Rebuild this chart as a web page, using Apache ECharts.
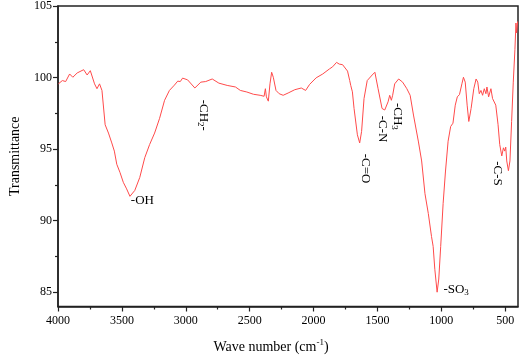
<!DOCTYPE html>
<html>
<head>
<meta charset="utf-8">
<script src="https://cdn.jsdelivr.net/npm/echarts@6/dist/echarts.min.js"></script>
<style>html,body{margin:0;padding:0;background:#fff}#c{width:520px;height:359px}</style>
</head>
<body>
<div id="c"></div>
<script>
// Wavenumbers (cm-1) and transmittance values
const waveNumbers = [3997,3966,3940,3909,3884,3850,3799,3772,3747,3714,3695,3675,3656,3631,3605,3579,3559,3540,3515,3489,3463,3437,3399,3360,3321,3283,3244,3205,3166,3128,3089,3063,3043,3025,2986,2929,2882,2844,2793,2741,2676,2611,2573,2522,2470,2418,2387,2377,2369,2354,2341,2328,2315,2294,2269,2238,2199,2147,2096,2062,2031,1980,1928,1876,1851,1838,1820,1799,1773,1760,1734,1717,1709,1696,1683,1657,1639,1624,1605,1580,1541,1520,1495,1464,1443,1417,1404,1391,1381,1365,1334,1303,1270,1244,1218,1179,1154,1128,1102,1077,1064,1051,1033,1020,1005,986,968,947,927,909,891,875,858,839,827,813,798,785,767,746,728,715,703,690,677,664,651,643,630,612,599,587,574,556,543,527,514,504,496,488,475,463,450,437,424,416,411,403];
const transmittance = [99.56,99.79,99.72,100.25,100.02,100.32,100.55,100.18,100.48,99.56,99.22,99.56,99.10,96.70,96.12,95.43,94.86,93.94,93.37,92.68,92.22,91.70,92.11,93.02,94.40,95.32,96.12,97.15,98.41,99.10,99.47,99.75,99.72,99.96,99.84,99.27,99.68,99.72,99.90,99.61,99.45,99.34,99.10,98.99,98.83,98.76,98.69,99.22,98.65,98.35,99.56,100.37,100.02,99.10,98.87,98.76,98.92,99.15,99.27,99.10,99.52,99.98,100.25,100.60,100.75,100.66,101.06,100.94,100.90,100.82,100.45,99.79,99.45,99.00,97.84,96.00,95.43,96.24,98.53,99.79,100.18,100.37,99.22,97.84,97.73,98.30,98.76,98.41,98.76,99.56,99.90,99.68,99.22,98.76,97.38,95.50,94.17,91.88,90.50,88.90,88.20,86.60,85.00,85.92,88.20,91.19,93.40,95.55,96.58,96.81,98.07,98.65,98.81,99.56,100.02,99.68,98.07,96.93,97.84,99.22,99.90,99.68,98.87,99.10,98.76,99.22,98.87,99.34,98.65,99.22,98.53,98.65,98.07,96.70,95.32,94.52,95.09,94.86,95.14,94.17,93.49,94.17,96.93,99.68,101.97,103.81,103.12,103.92];

const xMajorTicks = [500,1000,1500,2000,2500,3000,3500,4000];
const xMinorTicks = [750,1250,1750,2250,2750,3250,3750];
const yMajorTicks = [85,90,95,100,105];
const yMinorTicks = [87.5,92.5,97.5,102.5];

// Band annotations: [label (rich), wavenumber, transmittance, rotated]
const annotLabels = ['-OH', '-CH{s|2}-', '-C=O', '-C-N', '-CH{s|3}', '-SO{s|3}', '-C-S'];
const annotWave   = [3430, 2865, 1591, 1460, 1344, 984, 562];
const annotTrans  = [91.37, 97.36, 93.64, 96.4, 97.29, 85.18, 93.3];
const annotRotated = [false, true, true, true, true, false, true];

const serif = '"Liberation Serif", "DejaVu Serif", serif';
const axisColor = '#222';

const chart = echarts.init(document.getElementById('c'), null, {renderer: 'canvas'});

const data = waveNumbers.map((w, i) => [w, transmittance[i]]);

const mpData = annotLabels.map((t, i) => ({
  coord: [annotWave[i], annotTrans[i]],
  symbol: 'circle',
  symbolSize: 1,
  itemStyle: {color: 'rgba(0,0,0,0)'},
  label: {
    show: true,
    position: 'inside',
    formatter: t,
    rotate: annotRotated[i] ? -90 : 0,
    align: annotRotated[i] ? 'center' : 'left',
    verticalAlign: 'middle',
    color: '#000',
    fontFamily: serif,
    fontSize: 13,
    rich: {s: {fontSize: 9, fontFamily: serif, color: '#000', verticalAlign: 'bottom', padding: [6,0,0,0]}}
  }
}));

const plain = v => String(v);

const option = {
  animation: false,
  grid: {left: 52, right: 2, top: 6, bottom: 48, show: true, borderColor: axisColor, borderWidth: 1.5, backgroundColor: 'transparent'},
  xAxis: [{
    type: 'value', min: 400, max: 4000, inverse: true, position: 'bottom',
    splitLine: {show: false},
    axisLine: {show: true, onZero: false, lineStyle: {color: axisColor, width: 1.5}},
    axisTick: {show: true, customValues: xMajorTicks, length: 5, lineStyle: {color: axisColor, width: 1.2}},
    axisLabel: {customValues: xMajorTicks, formatter: plain, color: '#000', fontFamily: serif, fontSize: 12, margin: 8},
    name: 'Wave number (cm{sup|-1})',
    nameLocation: 'middle', nameGap: 32,
    nameTextStyle: {color: '#000', fontFamily: serif, fontSize: 14, padding: [0, 34, 0, 0],
      rich: {sup: {fontSize: 9, fontFamily: serif, color: '#000', verticalAlign: 'top', padding: [0,0,8,0]}}}
  }, {
    type: 'value', min: 400, max: 4000, inverse: true, position: 'bottom',
    splitLine: {show: false},
    axisLine: {show: false, onZero: false},
    axisTick: {show: true, customValues: xMinorTicks, length: 3, lineStyle: {color: axisColor, width: 1.2}},
    axisLabel: {show: false}
  }],
  yAxis: [{
    type: 'value', min: 84, max: 105, position: 'left',
    splitLine: {show: false},
    axisLine: {show: true, onZero: false, lineStyle: {color: axisColor, width: 1.5}},
    axisTick: {show: true, customValues: yMajorTicks, length: 5, lineStyle: {color: axisColor, width: 1.2}},
    axisLabel: {customValues: yMajorTicks, formatter: plain, color: '#000', fontFamily: serif, fontSize: 12, margin: 6},
    name: 'Transmittance',
    nameLocation: 'middle', nameGap: 36,
    nameTextStyle: {color: '#000', fontFamily: serif, fontSize: 14}
  }, {
    type: 'value', min: 84, max: 105, position: 'left',
    splitLine: {show: false},
    axisLine: {show: false, onZero: false},
    axisTick: {show: true, customValues: yMinorTicks, length: 3, lineStyle: {color: axisColor, width: 1.2}},
    axisLabel: {show: false}
  }],
  series: [{
    type: 'line',
    xAxisIndex: 0, yAxisIndex: 0,
    data: data,
    showSymbol: false,
    symbol: 'none',
    lineStyle: {color: '#ff4a4a', width: 1},
    markPoint: {data: mpData, animation: false, silent: true}
  }]
};
chart.setOption(option);
</script>
</body>
</html>
